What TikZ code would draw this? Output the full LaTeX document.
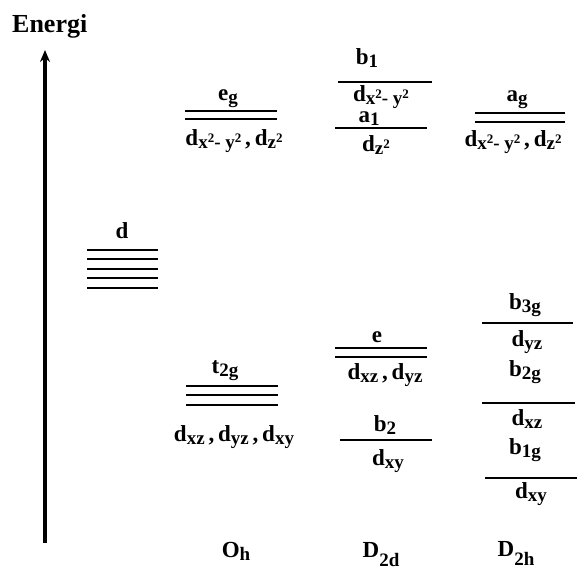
\documentclass[tikz,border=0pt]{standalone}
\usepackage{fontspec}
\setmainfont{Liberation Serif}
\usetikzlibrary{arrows.meta}
\newcommand{\lo}[1]{\raisebox{-3pt}{\fontsize{19}{19}\selectfont #1}}
\newcommand{\low}[1]{\raisebox{-9pt}{\fontsize{19}{19}\selectfont #1}}
\newcommand{\sqr}{\raisebox{6pt}{\fontsize{13}{13}\selectfont 2}}
\newcommand{\cm}{\,,\,}
\tikzset{
  lvl/.style={line width=2pt},
  lbl/.style={font=\fontsize{23}{26}\selectfont\bfseries, inner sep=0pt, anchor=base},
}
\begin{document}
\begin{tikzpicture}[x=1pt,y=-1pt]
\useasboundingbox[fill=white] (0,0) rectangle (581,569);
% energy axis
\node[lbl, anchor=base west, font=\fontsize{26}{28}\selectfont\bfseries] (energi) at (12,33) {Energi};
\coordinate (abot) at (45,543);
\coordinate (atop) at (45,50);
\draw[line width=4pt, -{Stealth[length=12pt,width=10pt]}] (abot) -- (atop);
% free ion d
\node[lbl] (dlab) at (122,239) {d};
\foreach \y in {250,259.5,269,278.5,288} \draw[lvl] (87,\y) -- (158,\y);
% Oh
\node[lbl] (eg) at (228,101) {e\lo{g}};
\draw[lvl] (185,111) -- (277,111);
\draw[lvl] (185,119) -- (277,119);
\node[lbl] (egd) at (234,146) {d\lo{x\sqr- y\sqr}\cm d\lo{z\sqr}};
\node[lbl] (t2g) at (225,373) {t\lo{2g}};
\draw[lvl] (186,386) -- (278,386);
\draw[lvl] (186,395) -- (278,395);
\draw[lvl] (186,405) -- (278,405);
\node[lbl] (t2gd) at (234,441) {d\lo{xz}\cm d\lo{yz}\cm d\lo{xy}};
\node[lbl] (oh) at (236,557) {O\lo{h}};
% D2d
\node[lbl] (b1) at (367,65) {b\lo{1}};
\draw[lvl] (338,82) -- (432,82);
\node[lbl] (b1d) at (381,102) {d\lo{x\sqr- y\sqr}};
\node[lbl] (a1) at (369,123) {a\lo{1}};
\draw[lvl] (335,128) -- (427,128);
\node[lbl] (a1d) at (376,152) {d\lo{z\sqr}};
\node[lbl] (e) at (377,342) {e};
\draw[lvl] (335,348) -- (427,348);
\draw[lvl] (335,357) -- (427,357);
\node[lbl] (ed) at (385,379) {d\lo{xz}\cm d\lo{yz}};
\node[lbl] (b2) at (385,431) {b\lo{2}};
\draw[lvl] (340,440) -- (432,440);
\node[lbl] (b2d) at (388,465) {d\lo{xy}};
\node[lbl] (d2d) at (381,557) {D\low{2d}};
% D2h
\node[lbl] (ag) at (517,102) {a\lo{g}};
\draw[lvl] (475,113) -- (565,113);
\draw[lvl] (475,122) -- (565,122);
\node[lbl] (agd) at (513,147) {d\lo{x\sqr- y\sqr}\cm d\lo{z\sqr}};
\node[lbl] (b3g) at (525,309) {b\lo{3g}};
\draw[lvl] (482,323) -- (573,323);
\node[lbl] (b3gd) at (527,346) {d\lo{yz}};
\node[lbl] (b2g) at (525,376) {b\lo{2g}};
\draw[lvl] (482,403) -- (575,403);
\node[lbl] (b2gd) at (527,425) {d\lo{xz}};
\node[lbl] (b1g) at (525,454) {b\lo{1g}};
\draw[lvl] (485,478) -- (577,478);
\node[lbl] (b1gd) at (531,498) {d\lo{xy}};
\node[lbl] (d2h) at (516,556) {D\low{2h}};
\end{tikzpicture}
\end{document}
